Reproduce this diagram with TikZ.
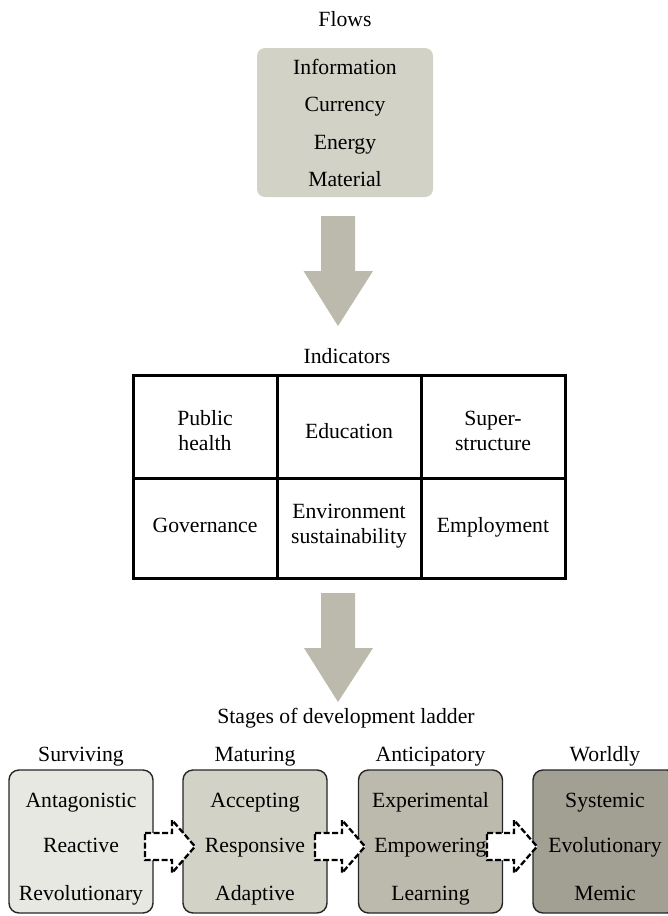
\documentclass[tikz,border=0pt]{standalone}
\usepackage{fontspec}
\setmainfont{Liberation Serif}
\definecolor{flowc}{RGB}{211,210,198}
\definecolor{arrowc}{RGB}{188,186,173}
\definecolor{survc}{RGB}{232,232,227}
\definecolor{matc}{RGB}{211,210,198}
\definecolor{antc}{RGB}{188,186,173}
\definecolor{worldc}{RGB}{162,159,147}
\begin{document}
\begin{tikzpicture}[x=1pt,y=-1pt,
  txt/.style={font=\fontsize{21.7}{26}\selectfont, inner sep=0, anchor=base},
  stagebox/.style={draw=black!85, line width=1.4pt, rounded corners=10pt, minimum width=144, minimum height=143, inner sep=0},
  bigarrow/.style={fill=arrowc, draw=none},
  dasharrow/.style={fill=white, draw=black, line width=2.3pt, dash pattern=on 6pt off 2.5pt, line join=miter},
  grid/.style={line width=3pt, line cap=rect}
]
\useasboundingbox (0,0) rectangle (667,916);

% Flows
\node[txt] (flowslbl) at (345,26) {Flows};
\node[fill=flowc, rounded corners=8pt, minimum width=176, minimum height=149, inner sep=0] (flows) at (345,122.5) {};
\node[txt] (f1) at (345,74) {Information};
\node[txt] (f2) at (345,111.5) {Currency};
\node[txt] (f3) at (345,149) {Energy};
\node[txt] (f4) at (345,186.5) {Material};

% big arrow 1
\fill[bigarrow] (321,216) -- (321,271) -- (303.5,271) -- (338,326) -- (373,271) -- (355,271) -- (355,216) -- cycle;

% Indicators
\node[txt] (indlbl) at (347,363) {Indicators};
\draw[grid] (133,375) rectangle (565,578);
\draw[grid] (133,478) -- (565,478);
\draw[grid] (277,375) -- (277,578);
\draw[grid] (421,375) -- (421,578);
\node[txt] (c1a) at (205,425) {Public};
\node[txt] (c1b) at (205,450) {health};
\node[txt] (c2) at (349,438) {Education};
\node[txt] (c3a) at (493,425) {Super-};
\node[txt] (c3b) at (493,450) {structure};
\node[txt] (c4) at (205,532) {Governance};
\node[txt] (c5a) at (349,518) {Environment};
\node[txt] (c5b) at (349,543) {sustainability};
\node[txt] (c6) at (493,532) {Employment};

% big arrow 2
\fill[bigarrow] (321,593) -- (321,648) -- (304,648) -- (338,702) -- (373,648) -- (355,648) -- (355,593) -- cycle;

% Stages
\node[txt] (stlbl) at (346,723) {Stages of development ladder};

\node[stagebox, fill=survc] (s1) at (81,841.5) {};
\node[stagebox, fill=matc] (s2) at (255,841.5) {};
\node[stagebox, fill=antc] (s3) at (430.5,841.5) {};
\node[stagebox, fill=worldc] (s4) at (605,841.5) {};

\node[txt] (l1) at (81,761) {Surviving};
\node[txt] (l2) at (255,761) {Maturing};
\node[txt] (l3) at (430.5,761) {Anticipatory};
\node[txt] (l4) at (605,761) {Worldly};

\node[txt] (t11) at (81,807) {Antagonistic};
\node[txt] (t12) at (81,852) {Reactive};
\node[txt] (t13) at (81,900) {Revolutionary};
\node[txt] (t21) at (255,807) {Accepting};
\node[txt] (t22) at (255,852) {Responsive};
\node[txt] (t23) at (255,900) {Adaptive};
\node[txt] (t31) at (430.5,807) {Experimental};
\node[txt] (t32) at (430.5,852) {Empowering};
\node[txt] (t33) at (430.5,900) {Learning};
\node[txt] (t41) at (605,807) {Systemic};
\node[txt] (t42) at (605,852) {Evolutionary};
\node[txt] (t43) at (605,900) {Memic};

% dashed arrows
\foreach \t in {145,315,487}{
  \draw[dasharrow] (\t,833) -- (\t+27,833) -- (\t+27,820) -- (\t+50,846.5) -- (\t+27,873) -- (\t+27,860) -- (\t,860) -- cycle;
}
\end{tikzpicture}
\end{document}
